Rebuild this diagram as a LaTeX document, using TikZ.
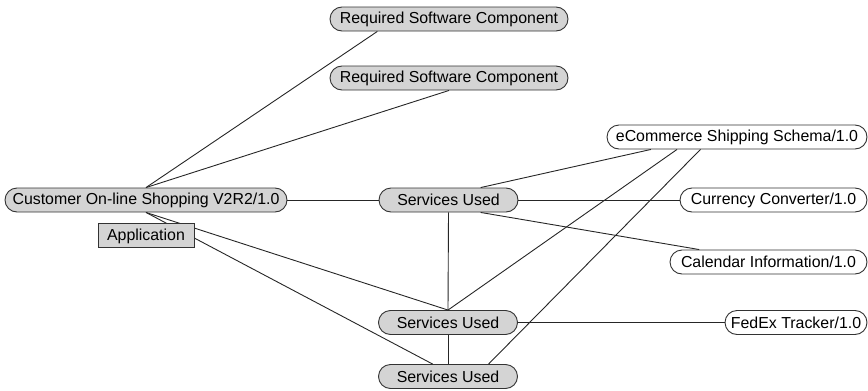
\documentclass[tikz,border=0pt]{standalone}
\usepackage{fontspec}
\setmainfont{Liberation Sans}
\usetikzlibrary{positioning,calc}
\definecolor{PillGray}{HTML}{D4D4D4}
\definecolor{BorderDark}{HTML}{333333}
\definecolor{EdgeDark}{HTML}{262626}

\begin{document}
\begin{tikzpicture}[
  x=1pt, y=-1pt,
  pill/.style={draw=BorderDark, line width=0.9pt, fill=PillGray, rounded corners=12pt, minimum height=24pt, inner xsep=2pt, inner ysep=0pt, font=\fontsize{15.9pt}{18pt}\selectfont},
  ext/.style={pill, fill=white},
  tag/.style={draw=BorderDark, line width=0.9pt, fill=PillGray, minimum height=24pt, minimum width=96pt, inner sep=0pt, font=\fontsize{15.9pt}{18pt}\selectfont},
  link/.style={line width=0.9pt, draw=EdgeDark}
]
  \useasboundingbox (0,0) rectangle (868,391);

  % application and its components
  \node[pill, minimum width=282pt] (customer) at (146,200) {Customer On-line Shopping V2R2/1.0};
  \node[pill, minimum width=238pt] (req1) at (449,19) {Required Software Component};
  \node[pill, minimum width=238pt] (req2) at (449,78) {Required Software Component};

  % services
  \node[pill, minimum width=139pt] (su1) at (448.5,200) {Services Used};
  \node[pill, minimum width=139pt] (su2) at (448,322.5) {Services Used};
  \node[pill, minimum width=139pt] (su3) at (448,376.5) {Services Used};

  \node[ext, minimum width=260pt] (ecom) at (737,137) {eCommerce Shipping Schema/1.0};
  \node[ext, minimum width=187pt] (curr) at (773.5,200) {Currency Converter/1.0};
  \node[ext, minimum width=197pt] (cal) at (768.5,262) {Calendar Information/1.0};
  \node[ext, minimum width=142pt] (fedex) at (796,322.5) {FedEx Tracker/1.0};

  \draw[link] (customer.north) -- ($(req1.south west)!0.2!(req1.south east)$);
  \draw[link] (customer.north) -- (req2.south);
  \draw[link] (customer.east) -- (su1.west);
  \draw[link] (customer.south) -- (su2.north);
  \draw[link] (customer.south) -- ($(su3.north west)!0.39!(su3.north east)$);

  \draw[link] ($(su1.north west)!0.73!(su1.north east)$) -- ($(ecom.south west)!0.17!(ecom.south east)$);
  \draw[link] (su1.east) -- (curr.west);
  \draw[link] ($(su1.south west)!0.73!(su1.south east)$) -- ($(cal.north west)!0.15!(cal.north east)$);
  \draw[link] (su1.south) -- (su2.north);
  \draw[link] (su2.north) -- ($(ecom.south west)!0.27!(ecom.south east)$);
  \draw[link] (su2.east) -- (fedex.west);
  \draw[link] (su2.south) -- (su3.north);
  \draw[link] ($(su3.north west)!0.79!(su3.north east)$) -- ($(ecom.south west)!0.36!(ecom.south east)$);

  \node[tag, below=11pt of customer] (app) {Application};
\end{tikzpicture}
\end{document}
